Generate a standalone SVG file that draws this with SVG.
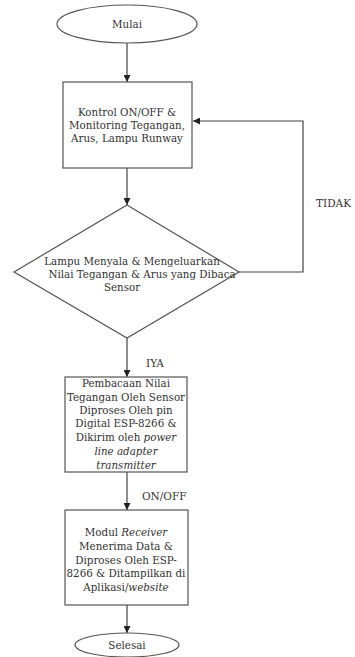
<svg xmlns="http://www.w3.org/2000/svg" width="355" height="657" viewBox="0 0 355 657">
<style>
.s{fill:#fff;stroke:#555;stroke-width:1.2}
.t{font-family:'DejaVu Serif',serif;font-size:10.3px;fill:#333;text-anchor:middle}
.l{font-family:'DejaVu Serif',serif;font-size:10.5px;fill:#333}
.c{fill:none;stroke:#444;stroke-width:1.2}
</style>
<defs>
<marker id="a" viewBox="0 0 10 10" refX="10" refY="5" markerWidth="7" markerHeight="7" orient="auto" markerUnits="userSpaceOnUse">
<path d="M0,0 L10,5 L0,10 z" fill="#222"/>
</marker>
</defs>
<rect width="355" height="657" fill="#fff"/>
<g id="connectors">
<line class="c" x1="127" y1="43" x2="127" y2="82" marker-end="url(#a)"/>
<line class="c" x1="127" y1="168" x2="127" y2="205" marker-end="url(#a)"/>
<polyline class="c" points="239,272 303,272 303,121 193,121" marker-end="url(#a)"/>
<line class="c" x1="127" y1="338" x2="127" y2="377" marker-end="url(#a)"/>
<line class="c" x1="127" y1="472" x2="127" y2="510" marker-end="url(#a)"/>
<line class="c" x1="127" y1="605" x2="127" y2="633" marker-end="url(#a)"/>
<text class="l" x="316" y="207">TIDAK</text>
<text class="l" x="146" y="367">IYA</text>
<text class="l" x="142" y="500">ON/OFF</text>
</g>
<g id="start">
<ellipse class="s" cx="127" cy="24" rx="70" ry="19"/>
<text class="t" x="127" y="28">Mulai</text>
</g>
<g id="kontrol">
<rect class="s" x="63" y="82" width="129" height="86"/>
<text class="t" x="127" y="116">Kontrol ON/OFF &amp;</text>
<text class="t" x="127" y="129">Monitoring Tegangan,</text>
<text class="t" x="127" y="142">Arus, Lampu Runway</text>
</g>
<g id="decision">
<polygon class="s" points="127,205 239,272 127,338 14,272"/>
<text class="t" x="132" y="265">Lampu Menyala &amp; Mengeluarkan</text>
<text class="t" x="142" y="278">Nilai Tegangan &amp; Arus yang Dibaca</text>
<text class="t" x="122" y="291">Sensor</text>
</g>
<g id="pembacaan">
<rect class="s" x="65" y="377" width="122" height="95"/>
<text class="t" x="126" y="387">Pembacaan Nilai</text>
<text class="t" x="126" y="401">Tegangan Oleh Sensor</text>
<text class="t" x="126" y="414">Diproses Oleh pin</text>
<text class="t" x="126" y="427">Digital ESP-8266 &amp;</text>
<text class="t" x="126" y="441">Dikirim oleh <tspan font-style="italic">power</tspan></text>
<text class="t" x="126" y="455" font-style="italic">line adapter</text>
<text class="t" x="126" y="469" font-style="italic">transmitter</text>
</g>
<g id="receiver">
<rect class="s" x="65" y="510" width="123" height="95"/>
<text class="t" x="126" y="536">Modul <tspan font-style="italic">Receiver</tspan></text>
<text class="t" x="126" y="550">Menerima Data &amp;</text>
<text class="t" x="126" y="564">Diproses Oleh ESP-</text>
<text class="t" x="126" y="577">8266 &amp; Ditampilkan di</text>
<text class="t" x="126" y="591">Aplikasi/<tspan font-style="italic">website</tspan></text>
</g>
<g id="end">
<ellipse class="s" cx="127" cy="645" rx="52" ry="12"/>
<text class="t" x="127" y="649">Selesai</text>
</g>
</svg>
